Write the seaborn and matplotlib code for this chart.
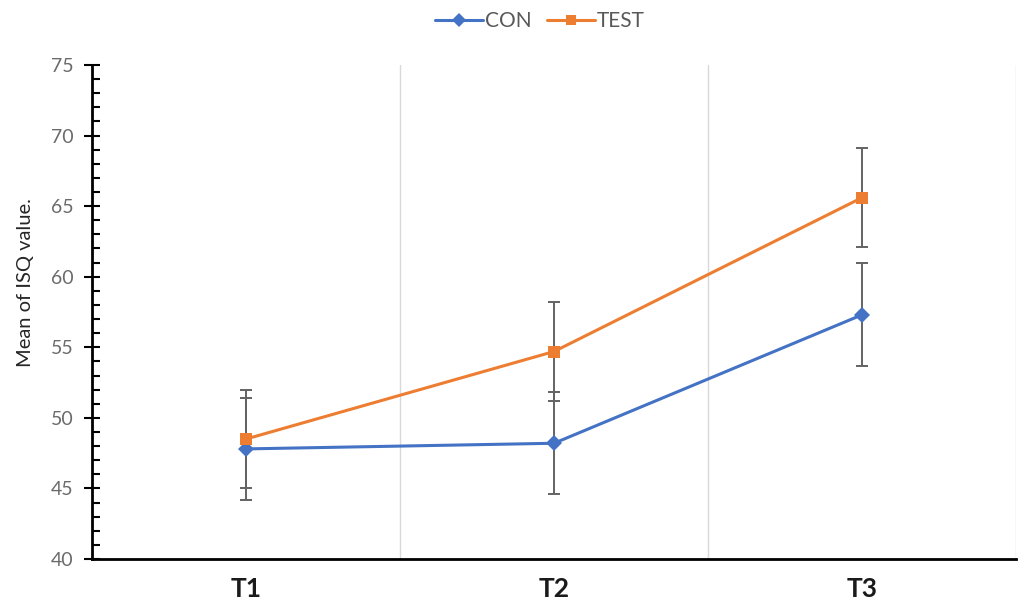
import numpy as np
import pandas as pd
import matplotlib
matplotlib.use("Agg")
import matplotlib.pyplot as plt
from matplotlib.ticker import MultipleLocator
from matplotlib.lines import Line2D
import seaborn as sns

times = ["T1", "T2", "T3"]
con_mean = [47.8, 48.2, 57.3]
con_err = [3.6, 3.6, 3.65]
test_mean = [48.5, 54.7, 65.6]
test_err = [3.5, 3.5, 3.5]
groups = ["CON", "TEST"]

sns.set_theme(style="white")
plt.rcParams['font.family'] = ['Lato', 'DejaVu Sans']

df = pd.DataFrame({
    "time": times * 2,
    "mean": con_mean + test_mean,
    "err": con_err + test_err,
    "group": [groups[0]] * 3 + [groups[1]] * 3,
})

fig = plt.figure(figsize=(10.24, 6.05), dpi=100)
ax = fig.add_axes([92/1024, 1 - 559/605, (1016-92)/1024, (559-65)/605])

colors = {"CON": "#4472C4", "TEST": "#ED7D31"}
markers = {"CON": "D", "TEST": "s"}

xpos = {t: i for i, t in enumerate(times)}
for g in groups:
    sub = df[df.group == g]
    ax.errorbar([xpos[t] for t in sub.time], sub["mean"], yerr=sub["err"],
                fmt="none", ecolor="#636363", elinewidth=1.4, capsize=4.2,
                capthick=1.4, zorder=2)

sns.lineplot(data=df, x="time", y="mean", hue="group", style="group",
             palette=colors, markers=markers, dashes=False, linewidth=2.2,
             markersize=8, markeredgewidth=0, ax=ax, zorder=3, legend=False)

ax.set_xlim(-0.5, 2.5)
ax.set_ylim(40, 75)
ax.yaxis.set_major_locator(MultipleLocator(5))
ax.yaxis.set_minor_locator(MultipleLocator(1))
ax.set_xticks(range(3))
ax.set_xticklabels(times, fontsize=19, fontweight="bold", color="#1a1a1a")
ax.tick_params(axis="x", length=0, pad=13)
ax.tick_params(axis="y", which="major", direction="inout", length=11, width=1.5,
               color="black", labelsize=14, labelcolor="#6b6b6b", pad=8, left=True)
ax.tick_params(axis="y", which="minor", direction="in", length=6, width=1.5,
               color="black", left=True)

for xv in [0.5, 1.5, 2.5]:
    ax.axvline(xv, color="#d9d9d9", linewidth=1.0, zorder=0)

for s in ["top", "right"]:
    ax.spines[s].set_visible(False)
ax.spines["left"].set_color("black")
ax.spines["left"].set_linewidth(2)
ax.spines["bottom"].set_color("black")
ax.spines["bottom"].set_linewidth(2)

ax.set_xlabel("")
ax.set_ylabel("Mean of ISQ value.", fontsize=14.5, color="#262626")
ax.yaxis.set_label_coords(-0.063, 0.56)

handles = [Line2D([0], [0], color=colors[g], marker=markers[g], markersize=7.5,
                  linewidth=2.2, markeredgewidth=0) for g in groups]
fig.legend(handles, groups, loc="upper center", bbox_to_anchor=(0.527, 1.012), ncol=2,
           frameon=False, fontsize=15, labelcolor="#595959", handlelength=2.3,
           columnspacing=0.75, handletextpad=0.1)

fig.savefig("out.png", dpi=100)
